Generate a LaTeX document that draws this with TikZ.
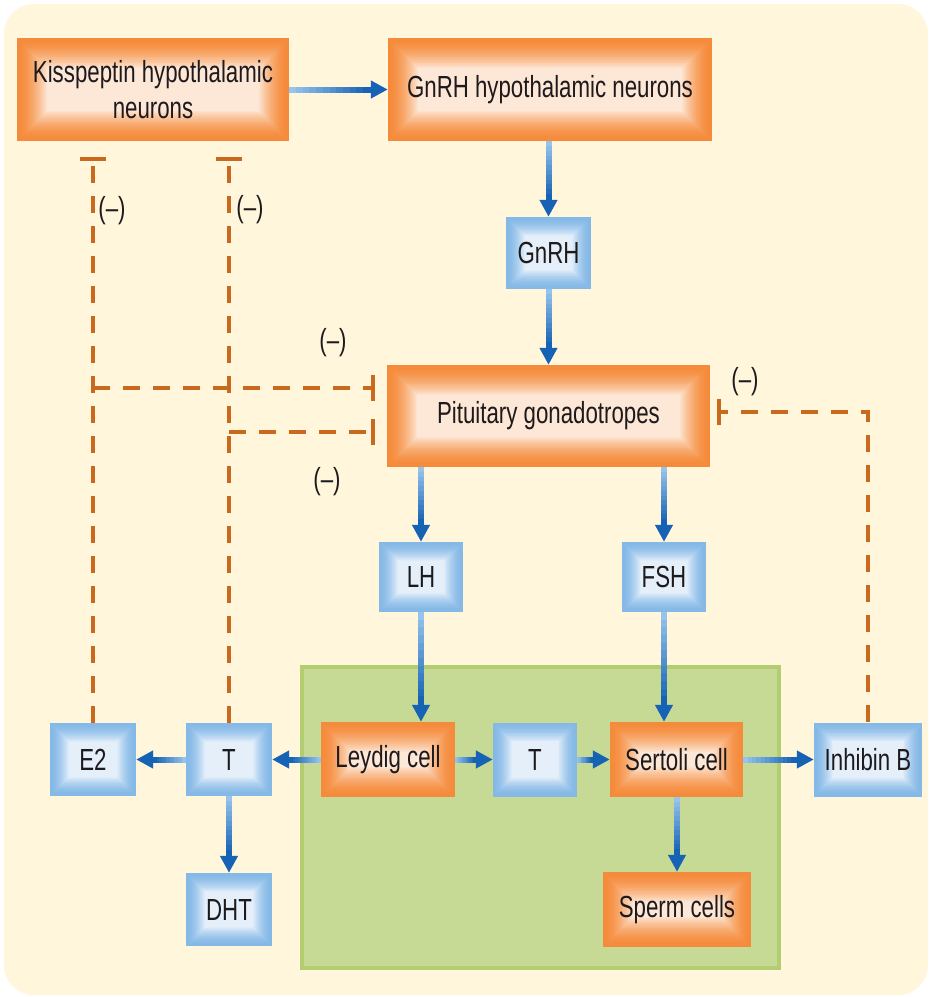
\documentclass[tikz,border=0pt]{standalone}
\usepackage{fontspec}
\setmainfont{Liberation Sans}[FakeStretch=0.73]
\usetikzlibrary{arrows.meta,calc}

\definecolor{paper}{RGB}{255,246,220}
\definecolor{cellgreen}{RGB}{198,218,150}
\definecolor{cellborder}{RGB}{178,206,112}
\definecolor{orangeedge}{RGB}{245,138,58}
\definecolor{orangecore}{RGB}{253,231,214}
\definecolor{blueedge}{RGB}{132,184,230}
\definecolor{bluecore}{RGB}{228,239,250}
\definecolor{flowlight}{RGB}{150,196,236}
\definecolor{tipblue}{RGB}{22,98,180}
\definecolor{inhorange}{RGB}{200,105,30}
\definecolor{inktext}{RGB}{30,26,28}

\tikzset{
  glow/.style n args={3}{fill=#1, path picture={
    \foreach \k in {0,...,30}{
      \pgfmathtruncatemacro\glowmix{100*(\k/30)^1.7}
      \fill[#2!\glowmix!#1] ([xshift=\k*#3,yshift=\k*#3]path picture bounding box.south west)
        rectangle ([xshift=-\k*#3,yshift=-\k*#3]path picture bounding box.north east);
    }}},
  label text/.style={text=inktext, font=\fontsize{30.5}{36}\selectfont},
  hormone/.style={shape=rectangle, glow={blueedge}{bluecore}{0.63pt}, label text, inner sep=0pt, align=center},
  cell/.style={shape=rectangle, glow={orangeedge}{orangecore}{1pt}, label text, inner sep=0pt, align=center},
  flowshaft/.style={line width=6pt},
  flowtip/.style={draw=tipblue, line width=6pt, -{Triangle[length=17pt,width=17pt,color=tipblue]}},
  inhib/.style={draw=inhorange, line width=4pt, dash pattern=on 17pt off 13pt, -{Bar[width=26pt,line width=4pt]}},
  sign/.style={label text}
}

% shaft shaded from light to dark, then the head
\newcommand\flowarrow[2]{%
  \coordinate (flowend) at ($(#2)!18pt!(#1)$);
  \foreach \s in {0,...,11}{%
    \pgfmathtruncatemacro\flowmix{\s*100/11}%
    \draw[flowshaft, draw=tipblue!\flowmix!flowlight] ($(#1)!\s/12!(flowend)$) -- ($(#1)!\s/12+0.1!(flowend)$);}%
  \draw[flowtip] (flowend) -- (#2);}

\begin{document}
\begin{tikzpicture}[x=1pt,y=-1pt]
\useasboundingbox (0,0) rectangle (930,997);
\fill[white] (0,0) rectangle (930,997);
\fill[paper, rounded corners=30pt] (4,4) rectangle (928,995);
\draw[draw=cellborder, fill=cellgreen, line width=4pt] (302,667) rectangle (779,968);

\node[cell, minimum width=272pt, minimum height=103pt] (0) at (153,89.5) {Kisspeptin hypothalamic\\neurons};
\node[cell, minimum width=324pt, minimum height=103pt] (1) at (550,89.5) {GnRH hypothalamic neurons};
\node[hormone, minimum width=85pt, minimum height=72pt] (2) at (548.5,253) {GnRH};
\node[cell, minimum width=323pt, minimum height=102pt] (3) at (548.5,416) {Pituitary gonadotropes};
\node[hormone, minimum width=84pt, minimum height=70pt] (4) at (421,577) {LH};
\node[hormone, minimum width=84pt, minimum height=70pt] (5) at (664,577) {FSH};
\node[cell, minimum width=134pt, minimum height=75pt] (6) at (388,759.5) {Leydig cell};
\node[hormone, minimum width=84pt, minimum height=74pt] (7) at (535,759.5) {T};
\node[cell, minimum width=133pt, minimum height=75pt] (8) at (676.5,759.5) {Sertoli cell};
\node[cell, minimum width=148pt, minimum height=75pt] (9) at (677,909.5) {Sperm cells};
\node[hormone, minimum width=108pt, minimum height=74pt] (10) at (868,759.5) {Inhibin B};
\node[hormone, minimum width=86pt, minimum height=73pt] (11) at (93,759.5) {E2};
\node[hormone, minimum width=86pt, minimum height=73pt] (12) at (229,759.5) {T};
\node[hormone, minimum width=86pt, minimum height=73pt] (13) at (229,909.5) {DHT};

% stimulation
\flowarrow{0.east}{1.west}
\flowarrow{1.south -| 2.north}{2.north}
\flowarrow{2.south}{3.north -| 2.south}
\flowarrow{3.south -| 4.north}{4.north}
\flowarrow{3.south -| 5.north}{5.north}
\flowarrow{4.south}{4.south |- 6.north}
\flowarrow{5.south}{5.south |- 8.north}
\flowarrow{6.west}{12.east}
\flowarrow{12.west}{11.east}
\flowarrow{12.south}{13.north}
\flowarrow{6.east}{7.west}
\flowarrow{7.east}{8.west}
\flowarrow{8.east}{10.west}
\flowarrow{8.south -| 9.north}{9.north}

% feedback
\coordinate (14) at ([xshift=-12pt,yshift=28pt]3.west);
\coordinate (15) at ([xshift=-12pt,yshift=-16pt]3.west);
\coordinate (16) at ([xshift=7pt,yshift=4pt]3.east);
\draw [inhib] (11.north) -- ([yshift=-16pt]0.south -| 11.north);
\draw [inhib] (12.north) -- ([yshift=-16pt]0.south -| 12.north);
\draw [inhib] (11.north |- 14) -- (14);
\draw [inhib] (12.north |- 15) -- (15);
\draw [inhib] (10.north) |- (16);

\node[sign] (17) at (112,211) {(–)};
\node[sign] (18) at (250,210) {(–)};
\node[sign] (19) at (333,343) {(–)};
\node[sign] (20) at (327,482) {(–)};
\node[sign] (21) at (745,382) {(–)};
\end{tikzpicture}
\end{document}
